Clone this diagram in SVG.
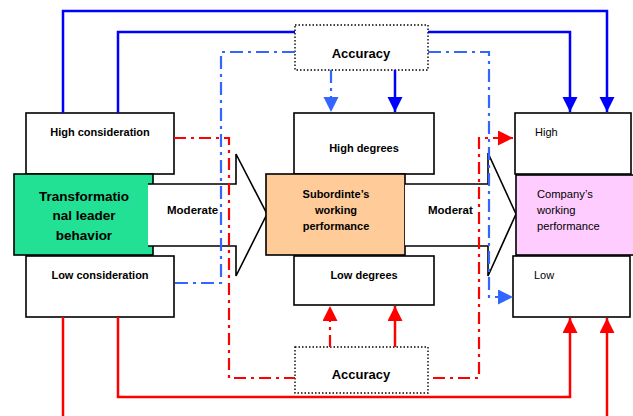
<svg xmlns="http://www.w3.org/2000/svg" width="633" height="416" viewBox="0 0 633 416">
<style>
.box{fill:#fff;stroke:#000;stroke-width:1.6}
.acc{fill:#fff;stroke:#000;stroke-width:1.4;stroke-dasharray:1.5 2}
.b{font-family:"Liberation Sans",Arial,sans-serif;font-weight:bold;fill:#000}
.r{font-family:"Liberation Sans",Arial,sans-serif;fill:#000}
.arr{fill:#fff;stroke:#000;stroke-width:1.6}
.bs{fill:none;stroke:#0000ff;stroke-width:2.5}
.bd{fill:none;stroke:#3366ff;stroke-width:2.2;stroke-dasharray:13 5 3 5}
.rs{fill:none;stroke:#ff0000;stroke-width:2.5}
.rd{fill:none;stroke:#ff0000;stroke-width:2.2;stroke-dasharray:12 5 3 5}
</style>
<defs>
<marker id="mB" markerUnits="userSpaceOnUse" markerWidth="16" markerHeight="16" refX="15" refY="7.5" orient="auto"><path d="M0,0 L15,7.5 L0,15 z" fill="#0000ff"/></marker>
<marker id="mBL" markerUnits="userSpaceOnUse" markerWidth="16" markerHeight="16" refX="15" refY="7.5" orient="auto"><path d="M0,0 L15,7.5 L0,15 z" fill="#3366ff"/></marker>
<marker id="mR" markerUnits="userSpaceOnUse" markerWidth="16" markerHeight="16" refX="15" refY="7.5" orient="auto"><path d="M0,0 L15,7.5 L0,15 z" fill="#ff0000"/></marker>
</defs>
<rect width="633" height="416" fill="#fff"/>

<g id="high-consideration"><rect class="box" x="26" y="113" width="148" height="61"/><text class="b" x="100" y="136" font-size="11" text-anchor="middle">High consideration</text></g>
<g id="low-consideration"><rect class="box" x="26" y="256" width="148" height="61"/><text class="b" x="100" y="279" font-size="11" text-anchor="middle">Low consideration</text></g>
<g id="leader"><rect x="14" y="174" width="139" height="81" fill="#22e094" stroke="#000" stroke-width="1.6"/><text class="b" font-size="13.5" text-anchor="middle"><tspan x="84" y="201">Transformatio</tspan><tspan x="84" y="220">nal leader</tspan><tspan x="84" y="240">behavior</tspan></text></g>
<g id="arrow1"><path class="arr" d="M148,184 H236 V154 L267,214 L236,276 V246 H148"/><text class="b" x="167" y="214" font-size="11.5">Moderate</text></g>

<g id="high-degrees"><rect class="box" x="294" y="113" width="140" height="61"/><text class="b" x="364" y="152" font-size="11" text-anchor="middle">High degrees</text></g>
<g id="low-degrees"><rect class="box" x="294" y="256" width="140" height="49"/><text class="b" x="364" y="279" font-size="11" text-anchor="middle">Low degrees</text></g>
<g id="subordinate"><rect x="266" y="174" width="139" height="81" fill="#ffcc99" stroke="#000" stroke-width="1.6"/><text class="b" font-size="11" text-anchor="middle"><tspan x="336" y="198">Subordinte’s</tspan><tspan x="336" y="214">working</tspan><tspan x="336" y="230">performance</tspan></text></g>
<g id="arrow2"><path class="arr" d="M405,184 H488 V153 L516,214 L488,276 V246 H405"/><text class="b" x="428" y="214" font-size="11.5">Moderat</text></g>

<g id="company-high"><rect class="box" x="515" y="113" width="116" height="61"/><text class="r" x="535" y="136" font-size="11">High</text></g>
<g id="company"><rect x="516" y="175" width="120" height="80" fill="#ffccff" stroke="#000" stroke-width="1.6"/><text class="r" font-size="11.2"><tspan x="537" y="198">Company’s</tspan><tspan x="537" y="214">working</tspan><tspan x="537" y="230">performance</tspan></text></g>
<g id="company-low"><rect class="box" x="513" y="256" width="117" height="61"/><text class="r" x="534" y="279" font-size="11">Low</text></g>

<g id="accuracy-top"><rect class="acc" x="295" y="25" width="133" height="45"/><text class="b" x="361" y="58" font-size="13" text-anchor="middle">Accuracy</text></g>
<g id="accuracy-bottom"><rect class="acc" x="295" y="347" width="133" height="46"/><text class="b" x="361" y="379" font-size="13" text-anchor="middle">Accuracy</text></g>

<g id="connectors">
<path class="bs" d="M63,113 V11 H607 V112" marker-end="url(#mB)"/>
<path class="bs" d="M118,113 V32 H295"/>
<path class="bs" d="M428,32 H570 V112" marker-end="url(#mB)"/>
<path class="bs" d="M395,70 V112" marker-end="url(#mB)"/>
<path class="bd" d="M331,70 V112" marker-end="url(#mBL)"/>
<path class="bd" d="M295,52 H221 V283 H174"/>
<path class="bd" d="M428,52 H489 V297 H513" marker-end="url(#mBL)"/>
<path class="rd" d="M174,138 H229 V378 H295"/>
<path class="rd" d="M433,378 H479 V138 H513" marker-end="url(#mR)"/>
<path class="rd" d="M330,347 V306" marker-end="url(#mR)"/>
<path class="rs" d="M395,347 V306" marker-end="url(#mR)"/>
<path class="rs" d="M63,317 V416"/>
<path class="rs" d="M118,317 V397 H570 V318" marker-end="url(#mR)"/>
<path class="rs" d="M607,416 V318" marker-end="url(#mR)"/>
</g>
</svg>
